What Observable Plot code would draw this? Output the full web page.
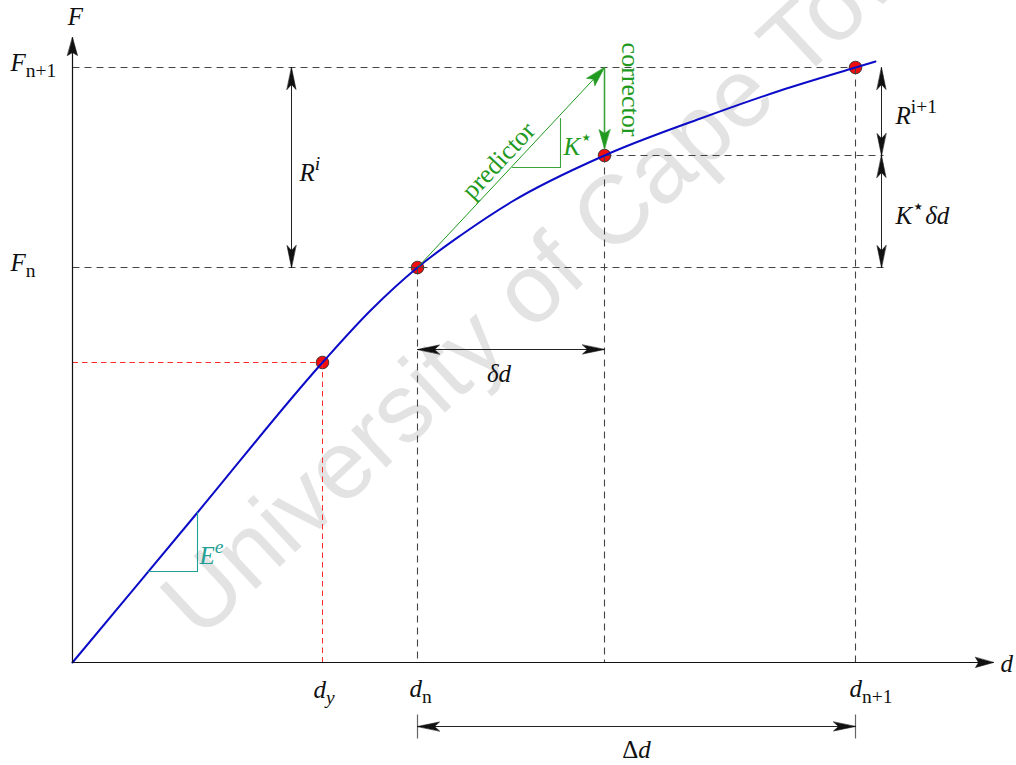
<!DOCTYPE html>
<html>
<head>
<meta charset="utf-8">
<script src="https://cdn.jsdelivr.net/npm/d3@7"></script>
<script src="https://cdn.jsdelivr.net/npm/@observablehq/plot@0.6"></script>
<style>
  html, body { margin: 0; padding: 0; background: #fff; }
</style>
</head>
<body>
<div id="chart"></div>
<script>
// Key displacement (d) and force (F) levels of the Newton–Raphson step
const dYield = 250, dN = 345, dStar = 532, dN1 = 783;
const fYield = 300, fN = 395, fStar = 507, fN1 = 595;

// Force–displacement response (elastic branch, then softening)
const curveD = [0, 125, 250, 298, 345, 388, 438, 532, 628, 708, 783, 803];
const curveF = [0, 150, 300, 352, 395, 427, 460, 507, 544, 572, 595, 601];

// Axis extents
const dAxisEnd = 921, fAxisEnd = 625;

// Dimension-line placement
const residualD = 219, rightD = 809, smallStepF = 313, bigStepF = -64;
const bigStepTick = [-52, -76];

// Slope triangles: elastic stiffness E^e and tangent K*
const elasticTri = [[76, 91], [125, 91], [125, 150]];
const tangentTri = [[440, 495], [488, 495], [488, 544]];

const watermark = "University of Cape Town";

// ---------------------------------------------------------------
const BLUE = "#0c0cc8", GREEN = "#1f9a1f", TEAL = "#22a095", RED = "#ff2a2a";
const GRAY = "#444", INK = "#111";
const FS = 25;

const curve = curveD.map((d, i) => ({d, F: curveF[i]}));
const points = [
  {d: dYield, F: fYield}, {d: dN, F: fN}, {d: dStar, F: fStar}, {d: dN1, F: fN1}
];

const grayGuides = [
  {x1: 0, y1: fN1, x2: dN1, y2: fN1},
  {x1: dStar, y1: fStar, x2: rightD + 2, y2: fStar},
  {x1: 0, y1: fN, x2: rightD + 2, y2: fN},
  {x1: dN, y1: fN, x2: dN, y2: 0},
  {x1: dStar, y1: fStar, x2: dStar, y2: 0},
  {x1: dN1, y1: fN1, x2: dN1, y2: 0}
];
const redGuides = [
  {x1: 0, y1: fYield, x2: dYield, y2: fYield},
  {x1: dYield, y1: fYield, x2: dYield, y2: 0}
];
const stepTicks = [dN, dN1].map(d => ({x1: d, y1: bigStepTick[0], x2: d, y2: bigStepTick[1]}));

const dimArrows = [
  {x1: residualD, y1: fN1, x2: residualD, y2: fN},
  {x1: rightD, y1: fN1, x2: rightD, y2: fStar},
  {x1: rightD, y1: fStar, x2: rightD, y2: fN},
  {x1: dN, y1: smallStepF, x2: dStar, y2: smallStepF},
  {x1: dN, y1: bigStepF, x2: dN1, y2: bigStepF}
];
const axes = [
  {x1: 0, y1: 0, x2: dAxisEnd, y2: 0},
  {x1: 0, y1: 0, x2: 0, y2: fAxisEnd}
];
const predictor = [{x1: dN, y1: fN, x2: dStar, y2: fN1}];
const corrector = [{x1: dStar, y1: fN1, x2: dStar, y2: fStar + 7}];

// heading in degrees, clockwise from "up" (x and y scales are 1:1 in px)
const heading = (dx, dy) => Math.atan2(dx, dy) * 180 / Math.PI;
const headsAtEnd = segs => segs.map(s => ({x: s.x2, y: s.y2, r: heading(s.x2 - s.x1, s.y2 - s.y1)}));
const headsAtStart = segs => segs.map(s => ({x: s.x1, y: s.y1, r: heading(s.x1 - s.x2, s.y1 - s.y2)}));

// filled "stealth" arrow head; tip at the vector's end
function stealth(w, back) {
  return {
    draw(ctx, l) {
      ctx.moveTo(0, -l);
      ctx.lineTo(w, 0);
      ctx.lineTo(0, -back);
      ctx.lineTo(-w, 0);
      ctx.closePath();
    }
  };
}
const headMark = (data, color, len, w, back) => Plot.vector(data, {
  x: "x", y: "y", rotate: "r", length: len, anchor: "end",
  shape: stealth(w, back), fill: color, stroke: color, strokeWidth: 0.6
});
const segMark = (data, opts) => Plot.link(data, {x1: "x1", y1: "y1", x2: "x2", y2: "y2", ...opts});
const tri = (pts, color) => Plot.line(pts, {x: p => p[0], y: p => p[1], stroke: color, strokeWidth: 1.1});

// Math labels: anchor point (d, F) plus a pixel nudge (right, down)
const mathLabels = [
  {t: "F", x: 0, y: fAxisEnd, dx: 3, dy: -21, a: "middle", c: INK},
  {t: "d", x: dAxisEnd, y: 0, dx: 7, dy: 1, a: "start", c: INK},
  {t: "F_{n+1}", x: 0, y: fN1, dx: -62, dy: -5, a: "start", c: INK},
  {t: "F_{n}", x: 0, y: fN, dx: -62, dy: -5, a: "start", c: INK},
  {t: "d_y", x: dYield, y: 0, dx: -9, dy: 27, a: "start", c: INK},
  {t: "d_{n}", x: dN, y: 0, dx: -8, dy: 26, a: "start", c: INK},
  {t: "d_{n+1}", x: dN1, y: 0, dx: -6, dy: 26, a: "start", c: INK},
  {t: "R^i", x: residualD, y: (fN1 + fN) / 2, dx: 8, dy: 5, a: "start", c: INK},
  {t: "R^{i+1}", x: rightD, y: (fN1 + fStar) / 2, dx: 14, dy: 4, a: "start", c: INK},
  {t: "K^{⋆}δd", x: rightD, y: (fStar + fN) / 2, dx: 14, dy: 4, a: "start", c: INK},
  {t: "δd", x: (dN + dStar) / 2, y: smallStepF, dx: -12, dy: 24, a: "middle", c: INK},
  {t: "Δd", x: (dN + dN1) / 2, y: bigStepF, dx: 0, dy: 23, a: "middle", c: INK},
  {t: "E^e", x: elasticTri[1][0], y: elasticTri[1][1], dx: 2, dy: -16, a: "start", c: TEAL},
  {t: "K^{⋆}", x: tangentTri[1][0], y: tangentTri[1][1], dx: 3, dy: -21, a: "start", c: GREEN}
].map(l => ({...l, px: l.x + l.dx, py: l.y - l.dy}));
const mathSet = new Set(mathLabels.map(l => l.t));
const labelMark = anchor => Plot.text(mathLabels.filter(l => l.a === anchor), {
  x: "px", y: "py", text: "t", fill: "c", textAnchor: anchor, fontSize: FS
});

const chart = Plot.plot({
  width: 1016,
  height: 765,
  marginTop: 0, marginRight: 0, marginBottom: 0, marginLeft: 0,
  x: {domain: [-72, 944], range: [0, 1016], axis: null},
  y: {domain: [-103, 662], range: [765, 0], axis: null},
  style: {background: "#fff", fontFamily: "'Liberation Serif', 'DejaVu Serif', serif", overflow: "visible"},
  marks: [
    // watermark
    Plot.text([watermark], {
      x: 488, y: 400, text: d => d, rotate: -43, fontSize: 97,
      fontFamily: "'Liberation Sans', Arial, sans-serif", fill: "#e3e3e3"
    }),

    // state points
    Plot.dot(points, {x: "d", y: "F", r: 6.3, fill: "#f20d0d", stroke: "#222", strokeWidth: 0.8}),

    // guide lines
    segMark(grayGuides, {stroke: GRAY, strokeWidth: 1.1, strokeDasharray: "7 5"}),
    segMark(redGuides, {stroke: RED, strokeWidth: 1, strokeDasharray: "5.5 4"}),
    segMark(stepTicks, {stroke: "#666", strokeWidth: 1.2}),

    // response curve
    Plot.line(curve, {x: "d", y: "F", curve: "monotone-x", stroke: BLUE, strokeWidth: 2}),

    // axes
    segMark(axes, {stroke: INK, strokeWidth: 1.2}),
    headMark(headsAtEnd(axes), INK, 18, 5, 3),

    // dimension lines
    segMark(dimArrows, {stroke: "#222", strokeWidth: 1}),
    headMark(headsAtEnd(dimArrows), "#111", 22, 4.5, 5),
    headMark(headsAtStart(dimArrows), "#111", 22, 4.5, 5),

    // predictor / corrector
    segMark(predictor, {stroke: GREEN, strokeWidth: 1}),
    headMark(headsAtEnd(predictor), GREEN, 20, 5.5, 4),
    segMark(corrector, {stroke: "#3aa43a", strokeWidth: 1.6}),
    headMark(headsAtEnd(corrector), GREEN, 19, 5.5, 4),

    // slope triangles
    tri(tangentTri, "#3aa43a"),
    tri(elasticTri, TEAL),

    // word labels
    Plot.text(["predictor"], {
      x: 426, y: 502, text: d => d, rotate: -47, fontSize: 26, letterSpacing: 1.6, fill: GREEN
    }),
    Plot.text(["corrector"], {
      x: 558, y: 573, text: d => d, rotate: 90, fontSize: 26, letterSpacing: 1.2, fill: GREEN
    }),

    // math labels
    labelMark("start"),
    labelMark("middle")
  ]
});

// Turn "X_{sub}" / "X^{sup}" into tspans; single-char scripts are italic, braced scripts upright.
function typeset(svg, size) {
  const NS = "http://www.w3.org/2000/svg";
  svg.querySelectorAll("text").forEach(node => {
    const src = node.textContent;
    if (!mathSet.has(src)) return;
    while (node.firstChild) node.removeChild(node.firstChild);
    let shift = 0;
    const add = (t, italic, scale, off) => {
      const ts = document.createElementNS(NS, "tspan");
      const target = off * size;
      ts.setAttribute("dy", target - shift);
      shift = target;
      ts.setAttribute("font-size", size * scale);
      ts.setAttribute("font-style", italic ? "italic" : "normal");
      ts.textContent = t;
      node.appendChild(ts);
    };
    const re = /([_^])(?:\{([^}]*)\}|(.))|([^_^]+)/gu;
    let m;
    while ((m = re.exec(src))) {
      if (m[4] !== undefined) {
        for (const run of m[4].match(/[A-Za-zδ]+|[^A-Za-zδ]+/gu)) {
          add(run, /[A-Za-zδ]/u.test(run), 1, 0);
        }
      } else {
        const italic = m[3] !== undefined;
        add(italic ? m[3] : m[2], italic, 0.78, m[1] === "_" ? 0.26 : -0.42);
      }
    }
  });
}
typeset(chart, FS);

document.getElementById("chart").appendChild(chart);
</script>
</body>
</html>
